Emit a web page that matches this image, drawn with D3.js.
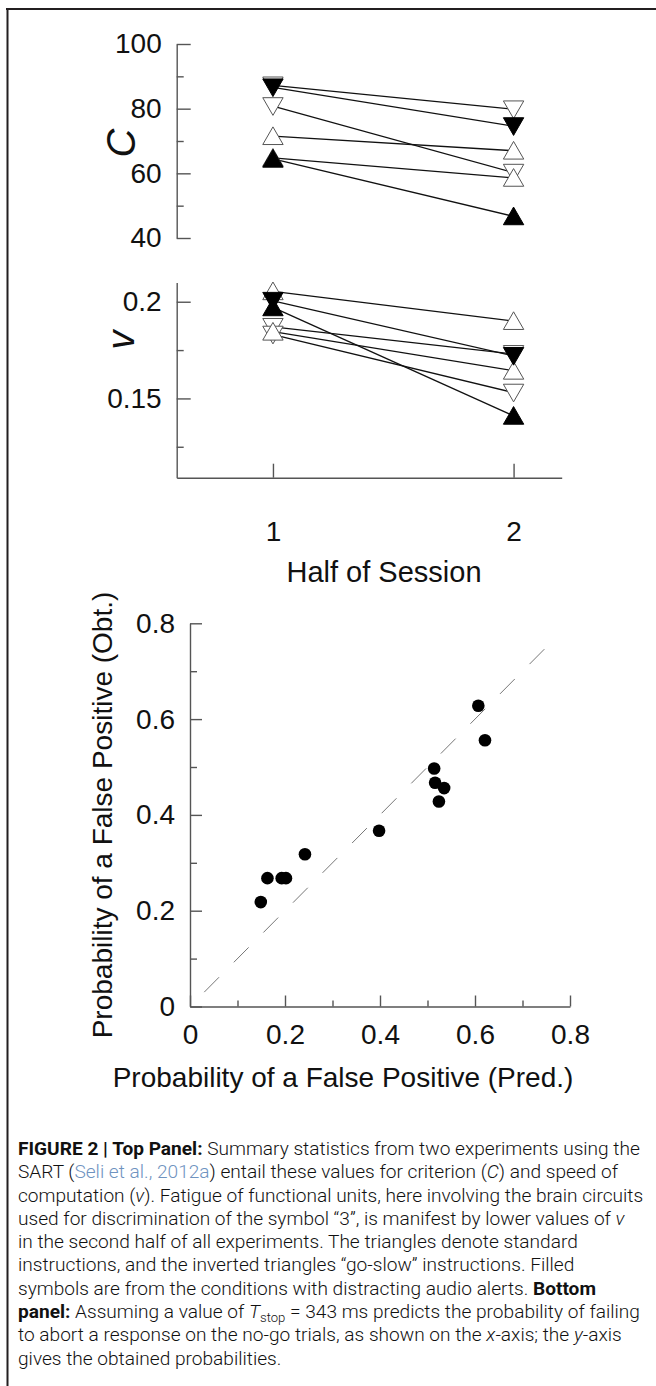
<!DOCTYPE html>
<html>
<head>
<meta charset="utf-8">
<style>
  body { margin: 0; background: #fff; }
  svg text { font-family: "Liberation Sans", Arial, Helvetica, sans-serif; fill: #111; }
  .axis path, .axis line { stroke: #555; stroke-width: 1.4; }
  .axis text { font-size: 28px; fill: #111; }
  .cap text { font-family: Roboto, "Liberation Sans Narrow", sans-serif; font-weight: 300; }
</style>
</head>
<body>
<div id="fig"></div>
<script src="https://d3js.org/d3.v7.min.js"></script>
<script>
// top panel: six conditions measured in both halves of a session
var halves = [1, 2];
var condShape  = ["down", "down", "down", "up", "up", "up"];
var condFilled = [false, true, false, false, false, true];
var critFirst   = [87.2, 86.6, 80.8, 71.5, 64.8, 64.5];
var critSecond  = [79.8, 74.6, 60.2, 67.0, 58.6, 46.7];
var speedFirst  = [0.187, 0.2005, 0.183, 0.2054, 0.1845, 0.1971];
var speedSecond = [0.173, 0.172, 0.153, 0.190, 0.1643, 0.141];

var critTicks = [40, 60, 80, 100], critMinor = [50, 70, 90];
var speedTicks = [0.15, 0.2], speedMinor = [0.125, 0.175];
var speedRange = [0.109, 0.21];

// bottom panel: predicted vs obtained probability of a false positive
var predicted = [0.607, 0.621, 0.514, 0.516, 0.535, 0.524, 0.398, 0.242, 0.163, 0.193, 0.202, 0.149];
var obtained  = [0.628, 0.556, 0.497, 0.467, 0.456, 0.428, 0.367, 0.318, 0.268, 0.268, 0.268, 0.218];
var identityLine = [0.03, 0.76];
var probTicks = [0, 0.2, 0.4, 0.6, 0.8], probMinor = [0.1, 0.3, 0.5, 0.7];

var W = 656, H = 1386;
var svg = d3.select("#fig").append("svg").attr("width", W).attr("height", H);

// frame
svg.append("line").attr("x1", 6).attr("x2", W).attr("y1", 9).attr("y2", 9)
   .attr("stroke", "#231f20").attr("stroke-width", 2.2);
svg.append("line").attr("x1", 7.5).attr("x2", 7.5).attr("y1", 8).attr("y2", H)
   .attr("stroke", "#231f20").attr("stroke-width", 2);

// ---------- top panel ----------
var x = d3.scaleLinear().domain([0.6, 2.2]).range([176.7, 561.7]);
var yC = d3.scaleLinear().domain([40, 100]).range([238, 44]);
var yV = d3.scaleLinear().domain(speedRange).range([477.7, 282.4]);

function leftAxis(scale, vals, fmt, g) {
  g.append("g").attr("class", "axis").attr("transform", "translate(" + x.range()[0] + ",0)")
    .call(d3.axisLeft(scale).tickValues(vals).tickFormat(fmt).tickSizeInner(-14).tickSizeOuter(0).tickPadding(15));
}
function minorAxis(scale, vals, g, tx) {
  g.append("g").attr("class", "axis").attr("transform", "translate(" + tx + ",0)")
    .call(d3.axisLeft(scale).tickValues(vals).tickFormat("").tickSizeInner(-7).tickSizeOuter(0))
    .select(".domain").remove();
}

leftAxis(yC, critTicks, d3.format("d"), svg);
minorAxis(yC, critMinor, svg, x.range()[0]);
leftAxis(yV, speedTicks, function(d) { return d === 0.2 ? "0.2" : "0.15"; }, svg);
minorAxis(yV, speedMinor, svg, x.range()[0]);

svg.append("g").attr("class", "axis").attr("transform", "translate(0," + yV.range()[0] + ")")
  .call(d3.axisBottom(x).tickValues(halves).tickFormat(d3.format("d")).tickSizeInner(-14).tickSizeOuter(0).tickPadding(43));

svg.append("text").attr("x", 384).attr("y", 582).attr("text-anchor", "middle")
   .style("font-size", "29px").text("Half of Session");
svg.append("text").attr("transform", "translate(135,143) rotate(-90)").attr("text-anchor", "middle")
   .style("font-size", "40px").style("font-style", "italic").text("C");
svg.append("text").attr("transform", "translate(134,340) rotate(-90)").attr("text-anchor", "middle")
   .style("font-size", "38px").style("font-style", "italic").text("v");

var tri = d3.symbol().type(d3.symbolTriangle).size(180);

function drawPanel(first, second, y) {
  var g = svg.append("g");
  condShape.forEach(function(s, i) {
    g.append("line")
      .attr("x1", x(halves[0])).attr("y1", y(first[i]))
      .attr("x2", x(halves[1])).attr("y2", y(second[i]))
      .attr("stroke", "#111").attr("stroke-width", 1.3);
  });
  var order = d3.range(condShape.length).sort(function(a, b) { return condFilled[a] - condFilled[b]; });
  order.forEach(function(i) {
    [first[i], second[i]].forEach(function(val, h) {
      var rot = condShape[i] === "down" ? 180 : 0;
      var off = condShape[i] === "down" ? -2.5 : 2.5;
      g.append("path").attr("d", tri)
        .attr("transform", "translate(" + x(halves[h]) + "," + (y(val) + off) + ") rotate(" + rot + ")")
        .attr("fill", condFilled[i] ? "#000" : "#fff")
        .attr("stroke", condFilled[i] ? "#000" : "#555").attr("stroke-width", 1);
    });
  });
}
drawPanel(critFirst, critSecond, yC);
drawPanel(speedFirst, speedSecond, yV);

// ---------- bottom panel ----------
var xb = d3.scaleLinear().domain([0, 0.8]).range([190, 570]);
var yb = d3.scaleLinear().domain([0, 0.8]).range([1006.5, 623.3]);
var pf = function(d) { return d === 0 ? "0" : d3.format(".1f")(d); };

svg.append("g").attr("class", "axis").attr("transform", "translate(" + xb.range()[0] + ",0)")
  .call(d3.axisLeft(yb).tickValues(probTicks).tickFormat(pf).tickSizeInner(-12).tickSizeOuter(0).tickPadding(15));
minorAxis(yb, probMinor, svg, xb.range()[0]);
svg.append("g").attr("class", "axis").attr("transform", "translate(0," + yb.range()[0] + ")")
  .call(d3.axisBottom(xb).tickValues(probTicks).tickFormat(pf).tickSizeInner(-11).tickSizeOuter(0).tickPadding(18));
svg.append("g").attr("class", "axis").attr("transform", "translate(0," + yb.range()[0] + ")")
  .call(d3.axisBottom(xb).tickValues(probMinor).tickFormat("").tickSizeInner(-6).tickSizeOuter(0))
  .select(".domain").remove();

svg.append("line")
  .attr("x1", xb(identityLine[0])).attr("y1", yb(identityLine[0]))
  .attr("x2", xb(identityLine[1])).attr("y2", yb(identityLine[1]))
  .attr("stroke", "#777").attr("stroke-width", 1).attr("stroke-dasharray", "21,21");

svg.append("g").selectAll("circle").data(predicted).enter().append("circle")
  .attr("cx", function(d) { return xb(d); })
  .attr("cy", function(d, i) { return yb(obtained[i]); })
  .attr("r", 6.3).attr("fill", "#000");

svg.append("text").attr("x", 343).attr("y", 1087).attr("text-anchor", "middle")
   .style("font-size", "28px").text("Probability of a False Positive (Pred.)");
svg.append("text").attr("transform", "translate(112,815) rotate(-90)").attr("text-anchor", "middle")
   .style("font-size", "28px").text("Probability of a False Positive (Obt.)");

// ---------- caption ----------
var capLines = [
  [["FIGURE 2 | Top Panel:", "b"], [" Summary statistics from two experiments using the"]],
  [["SART ("], ["Seli et al., 2012a", "c"], [") entail these values for criterion ("], ["C", "i"], [") and speed of"]],
  [["computation ("], ["v", "i"], ["). Fatigue of functional units, here involving the brain circuits"]],
  [["used for discrimination of the symbol \u201c3\u201d, is manifest by lower values of "], ["v", "i"]],
  [["in the second half of all experiments. The triangles denote standard"]],
  [["instructions, and the inverted triangles \u201cgo-slow\u201d instructions. Filled"]],
  [["symbols are from the conditions with distracting audio alerts. "], ["Bottom", "b"]],
  [["panel:", "b"], [" Assuming a value of "], ["T", "i"], ["stop", "s"], [" = 343 ms predicts the probability of failing"]],
  [["to abort a response on the no-go trials, as shown on the "], ["x", "i"], ["-axis; the "], ["y", "i"], ["-axis"]],
  [["gives the obtained probabilities."]]
];
var cap = svg.append("g").attr("class", "cap");
var capText = [];
capLines.forEach(function(parts, li) {
  var t = cap.append("text").attr("x", 0).attr("y", 1155 + li * 23.3).style("font-size", "19px");
  var afterSub = false;
  parts.forEach(function(p) {
    var sp = t.append("tspan").text(p[0]);
    if (p[1] === "b") sp.style("font-weight", 700);
    if (p[1] === "i") sp.style("font-style", "italic");
    if (p[1] === "c") sp.style("fill", "#6f93bf");
    if (p[1] === "s") sp.style("font-size", "13px").attr("dy", 4);
    if (afterSub) sp.attr("dy", -4);
    afterSub = p[1] === "s";
  });
  capText.push(t);
});
var w0 = capText[0].node().getComputedTextLength();
cap.attr("transform", "translate(18,0) scale(" + (622 / w0) + ",1)");
</script>
</body>
</html>
